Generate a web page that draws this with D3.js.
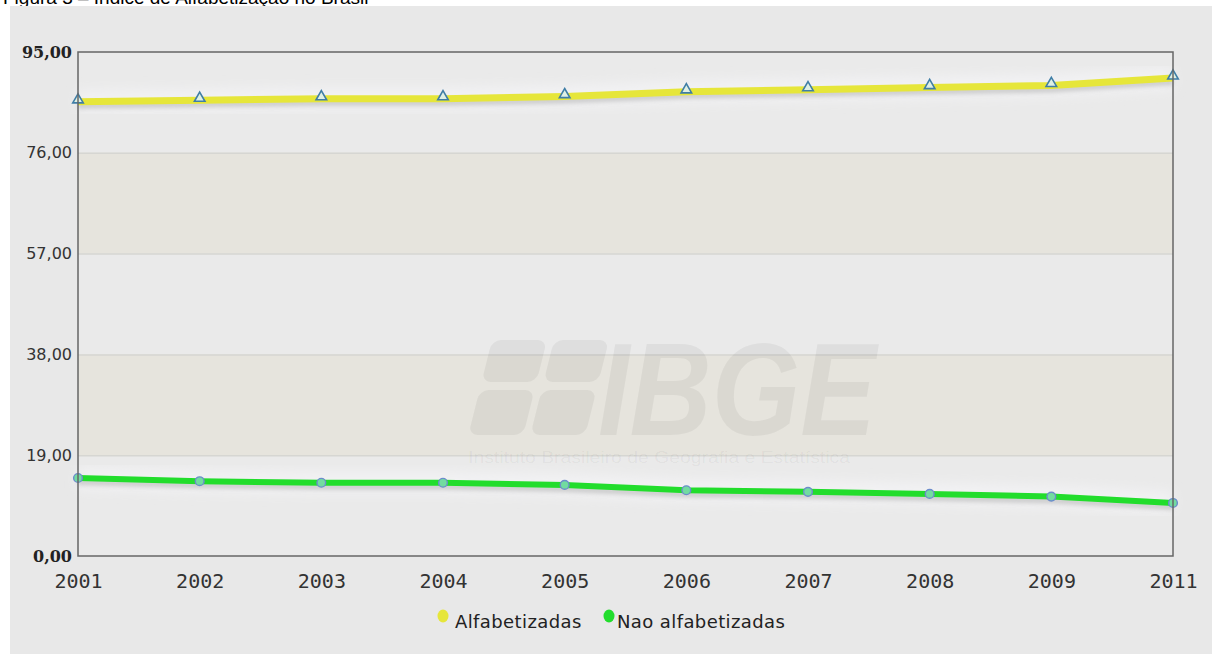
<!DOCTYPE html>
<html>
<head>
<meta charset="utf-8">
<script src="https://cdn.jsdelivr.net/npm/d3@7"></script>
<style>
  body { margin: 0; background: #fff; }
  svg { display: block; }
</style>
</head>
<body>
<div id="chart"></div>
<script>
  // data
  let years          = ['2001', '2002', '2003', '2004', '2005', '2006', '2007', '2008', '2009', '2011']
  let alfabetizadas  = [85.6, 85.9, 86.2, 86.2, 86.6, 87.5, 87.9, 88.3, 88.7, 90.1]
  let naoAlfabet     = [14.7, 14.1, 13.8, 13.8, 13.4, 12.4, 12.1, 11.7, 11.2, 10.0]
  let yTicks         = [0, 19, 38, 57, 76, 95]
  let seriesNames    = ['Alfabetizadas', 'Nao alfabetizadas']
  let seriesColors   = ['#e6e63a', '#22dd2c']

  let width  = 1212,
      height = 654,
      plot   = { left: 78, right: 1173, top: 52, bottom: 556 }

  let svg = d3.select('#chart')
              .append('svg:svg')
              .attr('width', width)
              .attr('height', height)

  let defs = svg.append('defs')
  defs.append('filter').attr('id', 'blur').attr('x', '-5%').attr('y', '-50%').attr('width', '110%').attr('height', '200%')
    .append('feGaussianBlur').attr('stdDeviation', 2)
  defs.append('filter').attr('id', 'glow').attr('x', '-5%').attr('y', '-50%').attr('width', '110%').attr('height', '200%')
    .append('feGaussianBlur').attr('stdDeviation', 6)

  // title, cut off at the top like in the source
  svg.append('text')
    .attr('x', 3).attr('y', 4)
    .attr('font-family', 'Liberation Sans, Arial, sans-serif')
    .attr('font-size', 19)
    .attr('fill', '#000')
    .text('Figura 3 \u2013 \u00cdndice de Alfabetiza\u00e7\u00e3o no Brasil')

  // chart panel
  svg.append('rect')
    .attr('x', 10).attr('y', 6)
    .attr('width', width - 10).attr('height', height - 6)
    .attr('fill', '#e8e8e8')

  let x = d3.scalePoint().domain(years).range([plot.left, plot.right])
  let y = d3.scaleLinear().domain([0, 95]).range([plot.bottom, plot.top])

  // plot background and alternating bands
  svg.append('rect')
    .attr('x', plot.left).attr('y', plot.top)
    .attr('width', plot.right - plot.left).attr('height', plot.bottom - plot.top)
    .attr('fill', '#eaeaea')

  let bands = d3.pairs(yTicks).filter(function(d, i) { return i % 2 === 1 })
  svg.append('g').selectAll('rect').data(bands).enter()
    .append('rect')
      .attr('x', plot.left)
      .attr('width', plot.right - plot.left)
      .attr('y', function(d) { return y(d[1]) })
      .attr('height', function(d) { return y(d[0]) - y(d[1]) })
      .attr('fill', '#e6e4dd')

  svg.append('g').selectAll('line').data(yTicks.slice(1, -1)).enter()
    .append('line')
      .attr('x1', plot.left).attr('x2', plot.right)
      .attr('y1', function(d) { return y(d) + 0.5 })
      .attr('y2', function(d) { return y(d) + 0.5 })
      .attr('stroke', '#d6d6d2')
      .attr('stroke-width', 1.5)

  // IBGE watermark
  let wm = svg.append('g').attr('fill', '#000').attr('fill-opacity', 0.05)
  let logo = wm.append('g').attr('transform', 'translate(492,340) skewX(-14)')
  ;[[0, 0, 55, 42], [62, 0, 55, 42], [0, 50, 55, 45], [62, 50, 55, 45]].forEach(function(r) {
    logo.append('rect')
      .attr('x', r[0]).attr('y', r[1]).attr('width', r[2]).attr('height', r[3])
      .attr('rx', 9)
  })
  wm.append('text')
    .attr('x', 598).attr('y', 435)
    .attr('font-family', 'Liberation Sans, Arial, sans-serif')
    .attr('font-weight', 'bold').attr('font-style', 'italic')
    .attr('font-size', 132)
    .attr('textLength', 278).attr('lengthAdjust', 'spacingAndGlyphs')
    .text('IBGE')
  wm.append('text')
    .attr('x', 468).attr('y', 463)
    .attr('font-family', 'Liberation Sans, Arial, sans-serif')
    .attr('font-size', 17)
    .attr('textLength', 382).attr('lengthAdjust', 'spacingAndGlyphs')
    .text('Instituto Brasileiro de Geografia e Estat\u00edstica')

  // series
  let series = [alfabetizadas, naoAlfabet].map(function(vals, i) {
    return { name: seriesNames[i], color: seriesColors[i],
             points: vals.map(function(v, j) { return { year: years[j], value: v } }) }
  })

  let line = d3.line()
               .x(function(d) { return x(d.year) })
               .y(function(d) { return y(d.value) })

  let lines = svg.append('g')
  lines.selectAll('path.glow').data(series).enter()
    .append('path').attr('class', 'glow')
      .attr('d', function(d) { return line(d.points) })
      .attr('fill', 'none').attr('stroke', '#f6f6fa').attr('stroke-width', 22)
      .attr('stroke-opacity', 0.6).attr('filter', 'url(#glow)')
  lines.selectAll('path.shadow').data(series).enter()
    .append('path').attr('class', 'shadow')
      .attr('d', function(d) { return line(d.points) })
      .attr('transform', 'translate(0,4)')
      .attr('fill', 'none').attr('stroke', '#a8a8a8').attr('stroke-width', 6)
      .attr('stroke-opacity', 0.5).attr('filter', 'url(#blur)')
  lines.selectAll('path.series').data(series).enter()
    .append('path').attr('class', 'series')
      .attr('d', function(d) { return line(d.points) })
      .attr('fill', 'none')
      .attr('stroke', function(d) { return d.color })
      .attr('stroke-width', function(d, i) { return i === 0 ? 7 : 6 })
      .attr('stroke-linejoin', 'round')

  // markers
  svg.append('g').selectAll('path').data(series[0].points).enter()
    .append('path')
      .attr('d', d3.symbol(d3.symbolTriangle, 48))
      .attr('transform', function(d) { return 'translate(' + x(d.year) + ',' + (y(d.value) - 2) + ')' })
      .attr('fill', '#dff0e4').attr('stroke', '#3f7ea6').attr('stroke-width', 1.6)
  svg.append('g').selectAll('path').data(series[1].points).enter()
    .append('path')
      .attr('d', d3.symbol(d3.symbolCircle, 60))
      .attr('transform', function(d) { return 'translate(' + x(d.year) + ',' + y(d.value) + ')' })
      .attr('fill', '#72dca0').attr('stroke', '#6c8ccc').attr('stroke-width', 1.4)

  // frame
  svg.append('rect')
    .attr('x', plot.left).attr('y', plot.top)
    .attr('width', plot.right - plot.left).attr('height', plot.bottom - plot.top)
    .attr('fill', 'none').attr('stroke', '#666').attr('stroke-width', 1.5)

  // axes
  let yAxis = svg.append('g')
    .attr('transform', 'translate(' + plot.left + ',0)')
    .call(d3.axisLeft(y).tickValues(yTicks).tickSize(0).tickPadding(6)
            .tickFormat(function(d) { return d3.format('.2f')(d).replace('.', ',') }))
  yAxis.select('.domain').remove()
  yAxis.selectAll('text')
    .attr('fill', '#333')
    .attr('font-family', 'DejaVu Sans, sans-serif')
    .attr('font-size', 16)
    .filter(function(d) { return d === 0 || d === 95 })
      .attr('font-family', 'DejaVu Serif, serif')
      .attr('font-weight', 'bold')
      .attr('fill', '#222')

  let xAxis = svg.append('g')
    .attr('transform', 'translate(0,' + plot.bottom + ')')
    .call(d3.axisBottom(x).tickSize(0).tickPadding(18))
  xAxis.select('.domain').remove()
  xAxis.selectAll('text')
    .attr('fill', '#333')
    .attr('font-family', 'DejaVu Sans Mono, monospace')
    .attr('font-size', 20)

  // legend
  let legend = svg.append('g')
  let legendPos = [{ cx: 443, tx: 455 }, { cx: 609, tx: 617 }]
  series.forEach(function(s, i) {
    legend.append('ellipse')
      .attr('cx', legendPos[i].cx).attr('cy', 616)
      .attr('rx', 5.5).attr('ry', 6.5)
      .attr('fill', s.color)
    legend.append('text')
      .attr('x', legendPos[i].tx).attr('y', 628)
      .attr('font-family', 'DejaVu Sans, sans-serif')
      .attr('font-size', 18)
      .attr('letter-spacing', 0.4)
      .attr('fill', '#222')
      .text(s.name)
  })
</script>
</body>
</html>
